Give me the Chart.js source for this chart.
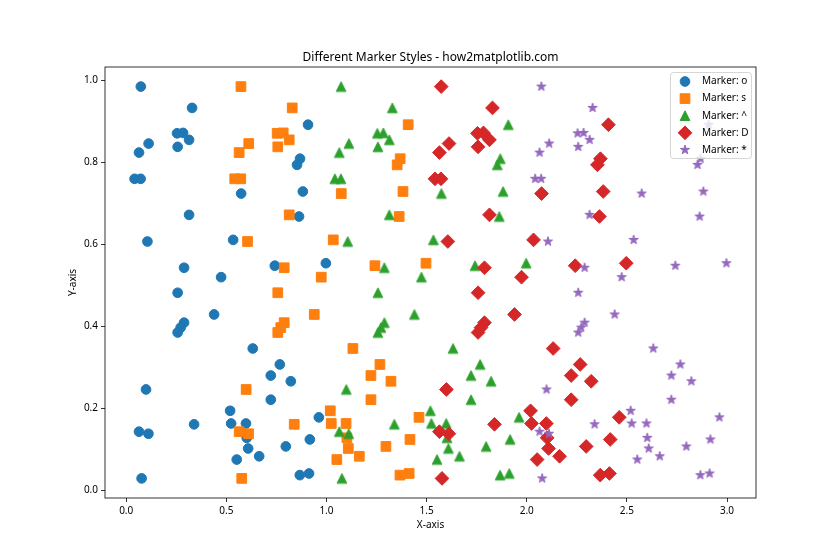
<!DOCTYPE html>
<html>
<head>
<meta charset="utf-8">
<script src="https://cdn.jsdelivr.net/npm/chart.js@4/dist/chart.umd.min.js"></script>
<style>
  html, body { margin: 0; padding: 0; background: #fff; }
  canvas { display: block; }
</style>
</head>
<body>
<canvas id="markerChart" width="840" height="560"></canvas>
<script>
// Scatter with five marker styles
var yValues = [0.985, 0.933, 0.892, 0.871, 0.872, 0.855, 0.846, 0.838, 0.824, 0.809,
  0.794, 0.760, 0.760, 0.724, 0.729, 0.672, 0.668, 0.607, 0.611, 0.543,
  0.548, 0.554, 0.520, 0.482, 0.429, 0.409, 0.397, 0.385, 0.346, 0.307,
  0.280, 0.266, 0.246, 0.221, 0.194, 0.178, 0.161, 0.163, 0.163, 0.143,
  0.138, 0.128, 0.102, 0.124, 0.107, 0.083, 0.075, 0.029, 0.037, 0.041];

var xCircle = [0.073, 0.329, 0.908, 0.254, 0.284, 0.314, 0.112, 0.257, 0.064, 0.868,
  0.853, 0.042, 0.072, 0.574, 0.882, 0.314, 0.863, 0.106, 0.534, 0.289,
  0.742, 0.997, 0.474, 0.257, 0.439, 0.289, 0.272, 0.257, 0.632, 0.767,
  0.722, 0.822, 0.099, 0.722, 0.519, 0.962, 0.339, 0.524, 0.598, 0.064,
  0.111, 0.602, 0.609, 0.917, 0.797, 0.664, 0.552, 0.077, 0.867, 0.913];

var xSquare = [0.573, 0.829, 1.408, 0.754, 0.784, 0.814, 0.612, 0.757, 0.564, 1.368,
  1.353, 0.542, 0.572, 1.074, 1.382, 0.814, 1.363, 0.606, 1.034, 0.789,
  1.242, 1.497, 0.974, 0.757, 0.939, 0.789, 0.772, 0.757, 1.132, 1.267,
  1.222, 1.322, 0.599, 1.222, 1.019, 1.462, 0.839, 1.024, 1.098, 0.564,
  0.611, 1.102, 1.109, 1.417, 1.297, 1.164, 1.052, 0.577, 1.367, 1.413];

var xTriangle = [1.073, 1.329, 1.908, 1.254, 1.284, 1.314, 1.112, 1.257, 1.064, 1.868,
  1.853, 1.042, 1.072, 1.574, 1.882, 1.314, 1.863, 1.106, 1.534, 1.289,
  1.742, 1.997, 1.474, 1.257, 1.439, 1.289, 1.272, 1.257, 1.632, 1.767,
  1.722, 1.822, 1.099, 1.722, 1.519, 1.962, 1.339, 1.524, 1.598, 1.064,
  1.111, 1.602, 1.609, 1.917, 1.797, 1.664, 1.552, 1.077, 1.867, 1.913];

var xDiamond = [1.573, 1.829, 2.408, 1.754, 1.784, 1.814, 1.612, 1.757, 1.564, 2.368,
  2.353, 1.542, 1.572, 2.074, 2.382, 1.814, 2.363, 1.606, 2.034, 1.789,
  2.242, 2.497, 1.974, 1.757, 1.939, 1.789, 1.772, 1.757, 2.132, 2.267,
  2.222, 2.322, 1.599, 2.222, 2.019, 2.462, 1.839, 2.024, 2.098, 1.564,
  1.611, 2.102, 2.109, 2.417, 2.297, 2.164, 2.052, 1.577, 2.367, 2.413];

var xStar = [2.073, 2.329, 2.908, 2.254, 2.284, 2.314, 2.112, 2.257, 2.064, 2.868,
  2.853, 2.042, 2.072, 2.574, 2.882, 2.314, 2.863, 2.106, 2.534, 2.289,
  2.742, 2.997, 2.474, 2.257, 2.439, 2.289, 2.272, 2.257, 2.632, 2.767,
  2.722, 2.822, 2.099, 2.722, 2.519, 2.962, 2.339, 2.524, 2.598, 2.064,
  2.111, 2.602, 2.609, 2.917, 2.797, 2.664, 2.552, 2.077, 2.867, 2.913];

var seriesNames = ['Marker: o', 'Marker: s', 'Marker: ^', 'Marker: D', 'Marker: *'];
var seriesColors = ['#1f77b4', '#ff7f0e', '#2ca02c', '#d62728', '#9467bd'];
var xTicks = [0.0, 0.5, 1.0, 1.5, 2.0, 2.5, 3.0];
var yTicks = [0.0, 0.2, 0.4, 0.6, 0.8, 1.0];

var FONT = '"Noto Sans", "DejaVu Sans", sans-serif';

function pairs(xs, ys){ return xs.map(function(x, i){ return {x: x, y: ys[i]}; }); }

// triangle and filled star are not built into Chart.js, so draw them on small canvases
function markerImage(kind, color){
  var c = document.createElement('canvas'); c.width = 18; c.height = 18;
  var g = c.getContext('2d');
  g.fillStyle = color; g.strokeStyle = color; g.lineWidth = 1; g.lineJoin = 'miter';
  markerPath(g, kind, 9, 9);
  g.fill(); g.stroke();
  return c;
}

function markerPath(g, kind, cx, cy){
  var s = 4.85;
  g.beginPath();
  if(kind === 'triangle'){
    g.moveTo(cx, cy - s); g.lineTo(cx + s, cy + s); g.lineTo(cx - s, cy + s);
  } else if(kind === 'star'){
    for(var i = 0; i < 10; i++){
      var r = (i % 2) ? s * 0.381966 : s;
      var a = -Math.PI / 2 + i * Math.PI / 5;
      g.lineTo(cx + r * Math.cos(a), cy + r * Math.sin(a));
    }
  } else if(kind === 'circle'){
    g.arc(cx, cy, s, 0, Math.PI * 2);
  } else if(kind === 'square'){
    g.rect(cx - s, cy - s, 2 * s, 2 * s);
  } else if(kind === 'diamond'){
    var d = s * Math.SQRT2;
    g.moveTo(cx, cy - d); g.lineTo(cx + d, cy); g.lineTo(cx, cy + d); g.lineTo(cx - d, cy);
  }
  g.closePath();
}

var legendKinds = ['circle', 'square', 'triangle', 'diamond', 'star'];

var framePlugin = {
  id: 'frame',
  afterDatasetsDraw: function(chart){
    var a = chart.chartArea, g = chart.ctx;
    g.save();
    g.strokeStyle = '#000'; g.lineWidth = 0.8;
    g.strokeRect(a.left, a.top, a.right - a.left, a.bottom - a.top);
    g.restore();
  }
};

var legendPlugin = {
  id: 'boxLegend',
  afterDraw: function(chart){
    var g = chart.ctx;
    var left = 670.5, top = 72.5, w = 81, h = 86, rad = 3;
    g.save();
    g.beginPath();
    g.moveTo(left + rad, top);
    g.arcTo(left + w, top, left + w, top + h, rad);
    g.arcTo(left + w, top + h, left, top + h, rad);
    g.arcTo(left, top + h, left, top, rad);
    g.arcTo(left, top, left + w, top, rad);
    g.closePath();
    g.fillStyle = 'rgba(255,255,255,0.8)'; g.fill();
    g.strokeStyle = 'rgba(204,204,204,0.8)'; g.lineWidth = 1; g.stroke();
    g.font = '10px ' + FONT; g.textBaseline = 'middle'; g.textAlign = 'left';
    for(var i = 0; i < seriesNames.length; i++){
      var cy = 81.5 + i * 17.1;
      g.fillStyle = seriesColors[i]; g.strokeStyle = seriesColors[i]; g.lineWidth = 1;
      markerPath(g, legendKinds[i], 685, cy);
      g.fill(); g.stroke();
      g.fillStyle = '#000';
      g.fillText(seriesNames[i], 702, cy);
    }
    g.restore();
  }
};

var tickFont = {family: FONT, size: 10};

new Chart(document.getElementById('markerChart'), {
  type: 'scatter',
  data: {
    datasets: [
      { label: seriesNames[0], data: pairs(xCircle, yValues), order: 5, pointStyle: 'circle', pointRadius: 4.85,
        backgroundColor: seriesColors[0], borderColor: seriesColors[0], borderWidth: 1 },
      { label: seriesNames[1], data: pairs(xSquare, yValues), order: 4, pointStyle: 'rect', pointRadius: 6.86,
        backgroundColor: seriesColors[1], borderColor: seriesColors[1], borderWidth: 1 },
      { label: seriesNames[2], data: pairs(xTriangle, yValues), order: 3, pointStyle: markerImage('triangle', seriesColors[2]),
        backgroundColor: seriesColors[2], borderColor: seriesColors[2] },
      { label: seriesNames[3], data: pairs(xDiamond, yValues), order: 2, pointStyle: 'rectRot', pointRadius: 6.86,
        backgroundColor: seriesColors[3], borderColor: seriesColors[3], borderWidth: 1 },
      { label: seriesNames[4], data: pairs(xStar, yValues), order: 1, pointStyle: markerImage('star', seriesColors[4]),
        backgroundColor: seriesColors[4], borderColor: seriesColors[4] }
    ]
  },
  options: {
    responsive: false,
    animation: false,
    events: [],
    layout: { padding: { left: 0, right: 84, top: 0, bottom: 0 } },
    plugins: {
      legend: { display: false },
      tooltip: { enabled: false },
      title: {
        display: true, fullSize: false,
        text: 'Different Marker Styles - how2matplotlib.com',
        color: '#000', font: { family: FONT, size: 12, weight: 'normal', lineHeight: 1.2 },
        padding: { top: 50, bottom: 2.6 }
      }
    },
    scales: {
      x: {
        type: 'linear', min: -0.1058, max: 3.1448,
        afterFit: function(s){ s.height = 62; },
        afterBuildTicks: function(s){ s.ticks = xTicks.map(function(v){ return {value: v}; }); },
        ticks: { color: '#000', font: tickFont, padding: 3, maxRotation: 0,
          callback: function(v){ return Number(v).toFixed(1); } },
        grid: { display: true, drawOnChartArea: false, drawTicks: true, tickLength: 4, color: '#000', tickColor: '#000', lineWidth: 0.8 },
        border: { display: false },
        title: { display: true, text: 'X-axis', color: '#000', font: { family: FONT, size: 10 }, padding: { top: 0, bottom: 29 } }
      },
      y: {
        type: 'linear', min: -0.0188, max: 1.0328,
        afterFit: function(s){ s.width = 105; },
        afterBuildTicks: function(s){ s.ticks = yTicks.map(function(v){ return {value: v}; }); },
        ticks: { color: '#000', font: tickFont, padding: 3,
          callback: function(v){ return Number(v).toFixed(1); } },
        grid: { display: true, drawOnChartArea: false, drawTicks: true, tickLength: 4, color: '#000', tickColor: '#000', lineWidth: 0.8 },
        border: { display: false },
        title: { display: true, text: 'Y-axis', color: '#000', font: { family: FONT, size: 10 }, padding: { top: 67, bottom: 0 } }
      }
    }
  },
  plugins: [framePlugin, legendPlugin]
});
</script>
</body>
</html>
